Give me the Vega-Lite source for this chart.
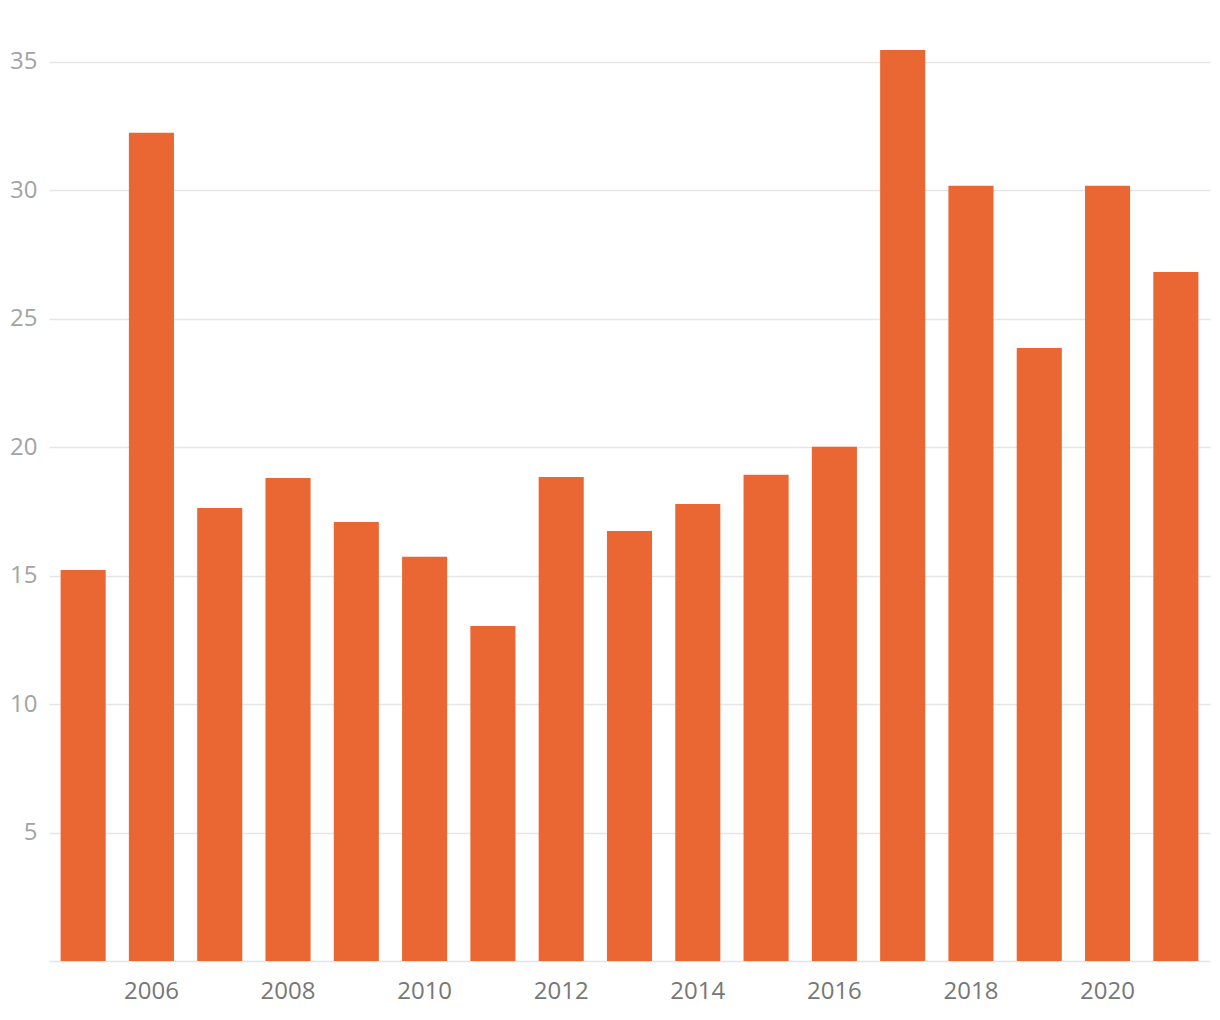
{
  "$schema": "https://vega.github.io/schema/vega-lite/v6.json",
  "autosize": "none",
  "width": 1161,
  "height": 925,
  "padding": {"left": 49, "top": 36, "right": 10, "bottom": 59},
  "background": "white",
  "config": {"view": {"stroke": null}, "font": "Open Sans"},
  "data": {"values": [
    {"year": 2005, "value": 15.22},
    {"year": 2006, "value": 32.23},
    {"year": 2007, "value": 17.63},
    {"year": 2008, "value": 18.8},
    {"year": 2009, "value": 17.09},
    {"year": 2010, "value": 15.73},
    {"year": 2011, "value": 13.04},
    {"year": 2012, "value": 18.84},
    {"year": 2013, "value": 16.74},
    {"year": 2014, "value": 17.79},
    {"year": 2015, "value": 18.92},
    {"year": 2016, "value": 20.01},
    {"year": 2017, "value": 35.46},
    {"year": 2018, "value": 30.17},
    {"year": 2019, "value": 23.86},
    {"year": 2020, "value": 30.17},
    {"year": 2021, "value": 26.82}
  ]},
  "mark": {"type": "bar", "color": "#EA6632"},
  "encoding": {
    "x": {
      "field": "year", "type": "ordinal", "title": null,
      "scale": {"paddingInner": 0.34, "paddingOuter": 0.17},
      "axis": {
        "labelAngle": 0, "ticks": false, "labelPadding": 18,
        "labelExpr": "datum.value % 2 == 0 ? datum.label : ''",
        "labelFontSize": 24, "labelColor": "#777777", "labelFont": "Open Sans",
        "domainColor": "#e3e3e3", "domainWidth": 1.5, "grid": false
      }
    },
    "y": {
      "field": "value", "type": "quantitative", "title": null,
      "scale": {"domain": [0, 36], "nice": false},
      "axis": {
        "values": [5, 10, 15, 20, 25, 30, 35],
        "domain": false, "ticks": false, "labelPadding": 12,
        "labelFontSize": 24, "labelColor": "#a3a3a3", "labelFont": "Open Sans",
        "gridColor": "#e5e5e5", "gridWidth": 1.5
      }
    }
  }
}
